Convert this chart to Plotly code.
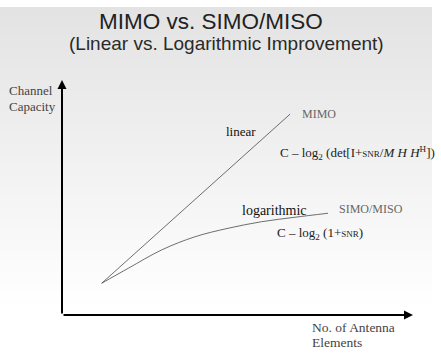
import plotly.graph_objects as go

# ---- data (abstract units: antenna elements vs channel capacity) ----
mimo_x = [1.13, 6.50]
mimo_y = [1.35, 8.55]
simo_x = [1.13, 1.89, 2.84, 3.79, 4.73, 5.69, 6.64, 7.58]
simo_y = [1.35, 1.99, 2.77, 3.33, 3.69, 3.97, 4.16, 4.33]

title_text = "MIMO vs. SIMO/MISO"
subtitle_text = "(Linear vs. Logarithmic Improvement)"

W, H = 441, 355
def px(x):
    return x / W
def py(y):
    return 1 - y / H

fig = go.Figure()
fig.add_trace(go.Scatter(x=mimo_x, y=mimo_y, mode="lines",
                         line=dict(color="#4a4a4a", width=0.8), hoverinfo="skip"))
fig.add_trace(go.Scatter(x=simo_x, y=simo_y, mode="lines", line_shape="spline",
                         line=dict(color="#4a4a4a", width=0.8), hoverinfo="skip"))

# gradient background panel
shapes = []
top, bottom, step = 7, 311, 4
n = (bottom - top) // step
for i in range(n):
    y0 = top + i * step
    t = i / (n - 1)
    c = int(round(227 + (255 - 227) * t))
    shapes.append(dict(type="rect", xref="paper", yref="paper",
                       x0=0, x1=px(432), y0=py(y0 + step + 0.5), y1=py(y0),
                       fillcolor=f"rgb({c},{c},{c})", line=dict(width=0), layer="below"))

serif = "Liberation Serif"
sans = "Liberation Sans"
ann = []
def txt(text, x, y, size, color="#222", font=serif, xanchor="left"):
    ann.append(dict(text=text, x=px(x), y=py(y), xref="paper", yref="paper",
                    xanchor=xanchor, yanchor="middle", showarrow=False,
                    font=dict(family=font, size=size, color=color)))

txt(title_text, 210.5, 21.5, 22.5, "#222", sans, "center")
txt(subtitle_text, 226, 43, 19, "#2a2a2a", sans, "center")
txt("Channel", 7, 90, 13, "#444")
txt("Capacity", 7, 106, 13, "#444")
txt("No. of Antenna", 310, 327, 13.5, "#444")
txt("Elements", 310, 342, 13.5, "#444")
txt("linear", 241, 132, 13, "#111", xanchor="center")
txt("MIMO", 300, 114, 12, "#666")
txt("C – log<sub>2</sub> (det[I+<span style='font-size:9px'>SNR</span>/<i>M H H</i><sup>H</sup>])",
    278, 153, 13, "#222")
txt("logarithmic", 274, 210, 14, "#111", xanchor="center")
txt("SIMO/MISO", 337, 209, 12, "#666")
txt("C – log<sub>2</sub> (1+<span style='font-size:9px'>SNR</span>)", 275, 233, 13, "#222")

# axis arrows
ann.append(dict(x=0, y=10, ax=0, ay=0, xref="x", yref="y", axref="x", ayref="y",
                showarrow=True, arrowhead=2, arrowsize=0.9, arrowwidth=2, arrowcolor="#000", text=""))
ann.append(dict(x=10, y=0, ax=0, ay=0, xref="x", yref="y", axref="x", ayref="y",
                showarrow=True, arrowhead=2, arrowsize=0.9, arrowwidth=2, arrowcolor="#000", text=""))

fig.update_layout(
    width=W, height=H, margin=dict(l=0, r=0, t=0, b=0),
    paper_bgcolor="white", plot_bgcolor="rgba(0,0,0,0)",
    showlegend=False, shapes=shapes, annotations=ann,
    xaxis=dict(domain=[px(62), px(413)], range=[0, 10], visible=False, fixedrange=True),
    yaxis=dict(domain=[py(315), py(80)], range=[0, 10], visible=False, fixedrange=True),
)
fig.write_html("out.html", config={"displayModeBar": False})
